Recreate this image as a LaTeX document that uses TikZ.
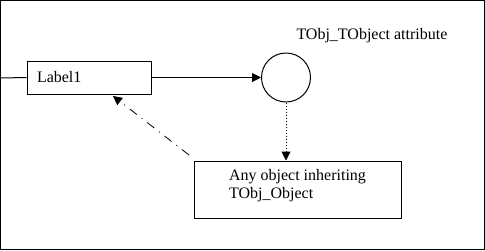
\documentclass[tikz,border=0pt]{standalone}
\usepackage{fontspec}
\setmainfont{Liberation Serif}
\usetikzlibrary{arrows.meta}
\begin{document}
\begin{tikzpicture}[x=1pt,y=-1pt,line width=1pt,
  txt/.style={font=\fontsize{16}{18}\selectfont},
  boxnode/.style={draw,rectangle,txt,align=left},
  tip/.style={-{Triangle[length=9pt,width=9pt]}}]
\useasboundingbox (0,0) rectangle (485,250);
\draw (0.5,0.5) rectangle (484.5,249.5);
\node[boxnode,minimum height=33pt,text width=104pt,inner xsep=10pt] (label) at (89,77.5) {Label1};
\node[draw,circle,minimum size=49pt,inner sep=0pt] (attr) at (286,77.5) {};
\node[txt,anchor=west,inner sep=0pt] (attrtxt) at (296,36) {TObj\_TObject attribute};
\node[boxnode,minimum height=57pt,minimum width=207pt,text depth=11pt] (obj) at (297.5,189.5) {Any object inheriting\\TObj\_Object};
\coordinate (lstart) at (0,78);
\coordinate (dstart) at (189,155);
\coordinate (dend) at (113,96);
\draw (lstart) -- (label.west);
\draw[tip] (label.east) -- (attr.west);
\draw[tip,dotted] (attr.south) -- (attr.south |- obj.north);
\draw[tip,line width=0.8pt,dash pattern={on 9pt off 6pt on 1pt off 6pt}] (dstart) -- (dend);
\end{tikzpicture}
\end{document}
